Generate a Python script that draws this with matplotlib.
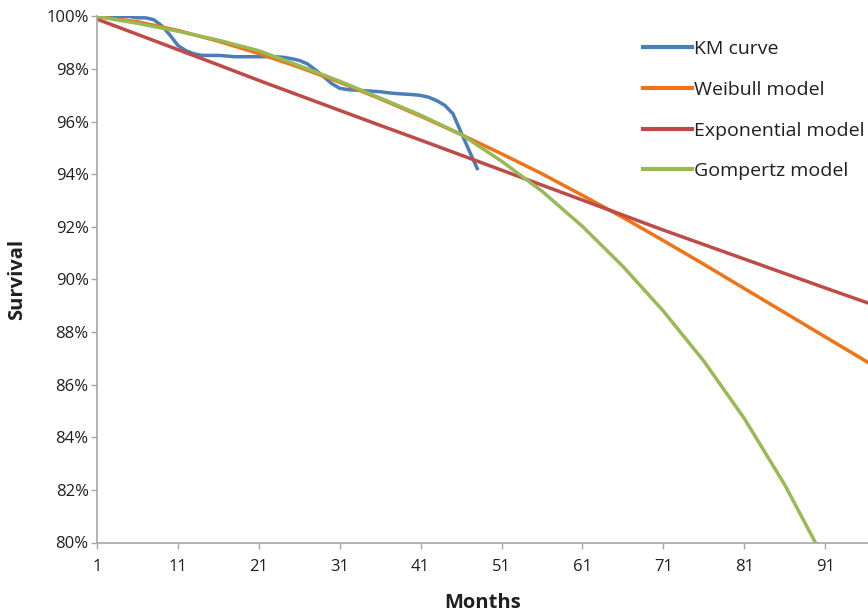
import matplotlib
matplotlib.use("Agg")
import matplotlib.pyplot as plt
from matplotlib.ticker import FuncFormatter, FixedLocator

plt.rcParams['font.family'] = ['Open Sans', 'DejaVu Sans']

# ---- data, survival in % ----
km_months = list(range(1, 49))
km_surv = [100.0, 100.0, 100.0, 100.0, 100.0, 99.95, 99.95, 99.88, 99.65, 99.30,
           98.90, 98.70, 98.58, 98.52, 98.52, 98.52, 98.50, 98.47, 98.47, 98.47,
           98.47, 98.47, 98.47, 98.45, 98.40, 98.33, 98.20, 97.97, 97.72, 97.45,
           97.27, 97.22, 97.20, 97.18, 97.16, 97.14, 97.10, 97.07, 97.05, 97.03,
           97.00, 96.93, 96.80, 96.62, 96.30, 95.60, 94.90, 94.22]

model_months = [1, 6, 11, 16, 21, 26, 31, 36, 41, 46, 51, 56, 61, 66, 71, 76, 81, 86, 91, 97]
weibull_surv = [100.0, 99.80, 99.47, 99.06, 98.59, 98.07, 97.50, 96.87, 96.21, 95.51,
                94.78, 94.02, 93.20, 92.36, 91.48, 90.58, 89.66, 88.74, 87.82, 86.72]
expo_surv = [99.90, 99.32, 98.74, 98.16, 97.57, 97.00, 96.43, 95.86, 95.30, 94.73,
             94.16, 93.59, 93.02, 92.45, 91.88, 91.33, 90.78, 90.23, 89.68, 89.03]
gompertz_surv = [100.0, 99.74, 99.44, 99.10, 98.70, 98.13, 97.54, 96.90, 96.25, 95.52,
                 94.50, 93.36, 92.02, 90.50, 88.80, 86.90, 84.72, 82.20, 79.30, 75.50]

series_names = ["KM curve", "Weibull model", "Exponential model", "Gompertz model"]
series_colors = ["#4A7EBB", "#F07316", "#BE4B48", "#98B954"]

x_ticks = [1, 11, 21, 31, 41, 51, 61, 71, 81, 91]
y_ticks = [80, 82, 84, 86, 88, 90, 92, 94, 96, 98, 100]

# ---- figure ----
W, H = 868, 612
fig = plt.figure(figsize=(W / 100, H / 100), dpi=100)
ax_left, ax_right, ax_top, ax_bottom = 97, 868, 16.5, 542.5
ax = fig.add_axes([ax_left / W, 1 - ax_bottom / H,
                   (ax_right - ax_left) / W, (ax_bottom - ax_top) / H])

lw = 2.5
ax.plot(km_months, km_surv, color=series_colors[0], lw=lw, label=series_names[0],
        solid_joinstyle='round')
ax.plot(model_months, weibull_surv, color=series_colors[1], lw=lw, label=series_names[1])
ax.plot(model_months, expo_surv, color=series_colors[2], lw=lw, label=series_names[2])
ax.plot(model_months, gompertz_surv, color=series_colors[3], lw=lw, label=series_names[3])

ax.set_xlim(1, 96.3)
ax.set_ylim(80, 100)
ax.xaxis.set_major_locator(FixedLocator(x_ticks))
ax.yaxis.set_major_locator(FixedLocator(y_ticks))
ax.yaxis.set_major_formatter(FuncFormatter(lambda v, p: f"{int(round(v))}%"))

for s in ['top', 'right']:
    ax.spines[s].set_visible(False)
for s in ['left', 'bottom']:
    ax.spines[s].set_color('#A6A6A6')
    ax.spines[s].set_linewidth(1.2)

ax.tick_params(axis='both', colors='#A6A6A6', length=4, width=1.0, direction='out',
               labelcolor='#1F1F1F', labelsize=12)
ax.tick_params(axis='x', pad=8)
ax.tick_params(axis='y', pad=2)

ax.set_xlabel("Months", fontsize=14.5, fontweight='bold', color='#1F1F1F', labelpad=13)
ax.set_ylabel("Survival", fontsize=14.5, fontweight='bold', color='#1F1F1F', labelpad=14)

leg = fig.legend(loc='upper left', bbox_to_anchor=(643 / W, 1 - 40 / H),
                 frameon=False, fontsize=14, handlelength=2.5, handletextpad=0.1,
                 labelspacing=1.17, borderpad=0, borderaxespad=0)
for t in leg.get_texts():
    t.set_color('#1F1F1F')
for l in leg.get_lines():
    l.set_linewidth(3)

fig.savefig("out.png", dpi=100)
